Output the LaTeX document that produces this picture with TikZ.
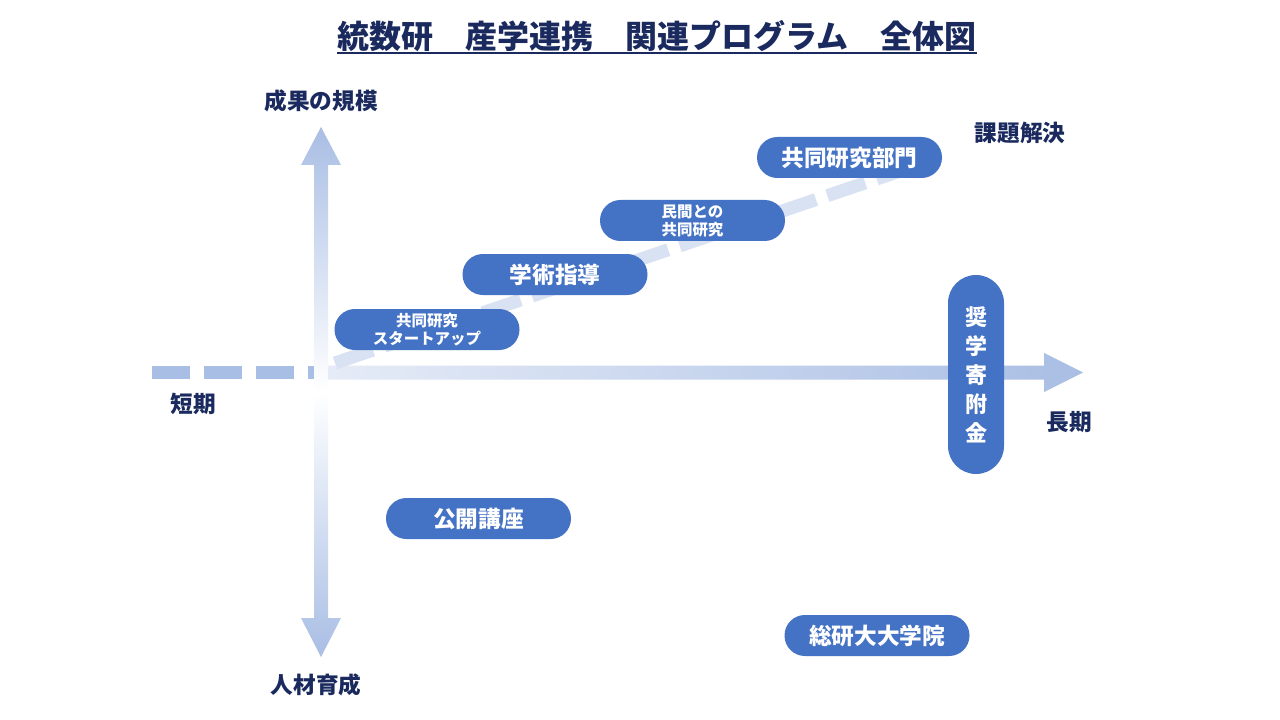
\documentclass[tikz,border=0pt]{standalone}
\usepackage{fontspec}
\setmainfont{Noto Sans CJK JP}
\definecolor{nodeblue}{HTML}{4472C4}
\definecolor{navy}{HTML}{1A2A5E}
\definecolor{arrowblue}{HTML}{A9BEE4}
\definecolor{lightline}{HTML}{D9E2F3}
\definecolor{pale}{HTML}{E6ECF7}
\begin{document}
\begin{tikzpicture}[x=0.75pt,y=-0.75pt,
  pill/.style={fill=nodeblue, draw=none, rounded corners=15.3pt, minimum width=138.75pt, minimum height=30.75pt, inner sep=0pt, text=white, font=\bfseries\fontsize{17pt}{20pt}\selectfont, align=center},
  smallpill/.style={pill, font=\bfseries\fontsize{11.6pt}{13.5pt}\selectfont},
  vpill/.style={fill=nodeblue, draw=none, rounded corners=21pt, minimum width=42pt, minimum height=149.25pt, inner sep=0pt, text=white, font=\bfseries\fontsize{16.5pt}{21.75pt}\selectfont, align=center},
  axislabel/.style={text=navy, font=\bfseries\fontsize{17pt}{20pt}\selectfont, inner sep=0pt}]
\useasboundingbox (0,0) rectangle (1280,720);
\fill[white] (0,0) rectangle (1280,720);
% title
\node[text=navy, font=\bfseries\fontsize{24pt}{28pt}\selectfont, inner sep=0pt] (title) at (657,36) {統数研　産学連携　関連プログラム　全体図};
\draw[navy, line width=1.5pt] ([yshift=-3.5pt]title.base west) -- ([yshift=-3.5pt]title.base east);
% horizontal dashed part
\coordinate (hdS) at (152,372);
\coordinate (hdE) at (321,372);
\draw[arrowblue, line width=9.75pt, dash pattern=on 28.5pt off 10.5pt] (hdS) -- (hdE);
% horizontal arrow
\shade[left color=pale, right color=arrowblue] (321,365.5) -- (1044,365.5) -- (1044,353) -- (1083,372.5) -- (1044,392) -- (1044,379.5) -- (321,379.5) -- cycle;
% diagonal dashed line
\coordinate (dgS) at (335,363);
\coordinate (dgE) at (900,171);
\draw[lightline, line width=9.75pt, dash pattern=on 30pt off 9pt] (dgS) -- (dgE);
% vertical arrow
\shade[top color=arrowblue, bottom color=arrowblue, middle color=white] (321,127) -- (341,165) -- (328,165) -- (328,618) -- (341,618) -- (321,657) -- (301,618) -- (314,618) -- (314,165) -- (301,165) -- cycle;
% nodes
\node[pill] (bumon) at (849.5,157.5) {共同研究部門};
\node[smallpill] (minkan) at (692.5,220.5) {民間との\\共同研究};
\node[pill] (gakujutsu) at (555,274.5) {学術指導};
\node[smallpill] (startup) at (427,329.5) {共同研究\\スタートアップ};
\node[vpill] (shogaku) at (976,374.5) {奨\\学\\寄\\附\\金};
\node[pill] (koukai) at (478.5,518.5) {公開講座};
\node[pill] (soken) at (877,635.5) {総研大大学院};
% labels
\node[axislabel] (seika) at (321,101) {成果の規模};
\node[axislabel] (kadai) at (1020,133) {課題解決};
\node[axislabel] (tanki) at (193,404) {短期};
\node[axislabel] (chouki) at (1069,422) {長期};
\node[axislabel] (jinzai) at (316,685) {人材育成};
\end{tikzpicture}
\end{document}
